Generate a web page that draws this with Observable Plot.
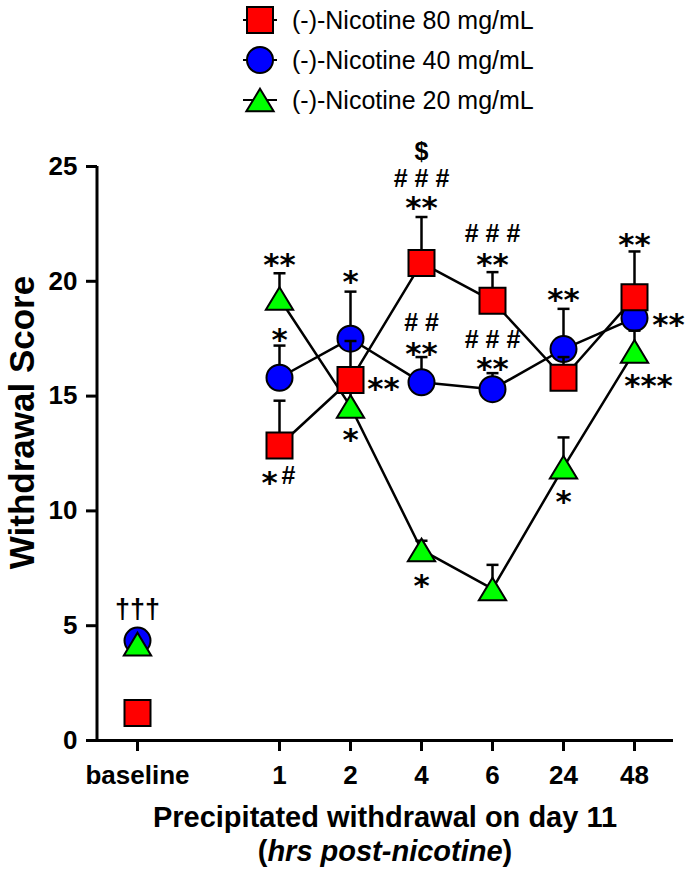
<!DOCTYPE html>
<html>
<head>
<meta charset="utf-8">
<script src="https://cdn.jsdelivr.net/npm/d3@7"></script>
<script src="https://cdn.jsdelivr.net/npm/@observablehq/plot@0.6"></script>
<style>
  body { margin: 0; background: #fff; font-family: "Liberation Sans", Arial, sans-serif; color: #000; }
  #legend { position: relative; height: 120px; }
  .row { position: absolute; left: 240px; height: 40px; display: flex; align-items: center; }
  .row span { margin-left: 12px; font-size: 25px; white-space: nowrap; }
  #chart svg { display: block; }
  #xtitle { margin-left: 97px; width: 576px; text-align: center; font-weight: bold; font-size: 29px; line-height: 34px; margin-top: 10px; }
</style>
</head>
<body>
<div id="legend"></div>
<div id="chart"></div>
<div id="xtitle"><div>Precipitated withdrawal on day 11</div><div>(<i>hrs post-nicotine</i>)</div></div>
<script>
// ---------------- data ----------------
const timepoints = ["baseline", "1", "2", "4", "6", "24", "48"];
const spacer = " ";
const yTicks = [0, 5, 10, 15, 20, 25];

const seriesNames = ["(-)-Nicotine 80 mg/mL", "(-)-Nicotine 40 mg/mL", "(-)-Nicotine 20 mg/mL"];
const seriesColors = ["#ff0000", "#0000ff", "#00ff00"];
const seriesSymbols = ["square", "circle", "triangle"];

const mean80 = [1.2, 12.85, 15.7, 20.8, 19.15, 15.8, 19.3];
const sem80  = [0, 1.95, 1.7, 2.0, 1.25, 0.9, 2.0];
const mean40 = [4.35, 15.8, 17.5, 15.6, 15.3, 17.05, 18.4];
const sem40  = [0, 1.4, 2.05, 1.1, 0.7, 1.75, 0.6];
const mean20 = [4.2, 19.25, 14.55, 8.3, 6.6, 11.9, 16.95];
const sem20  = [0, 1.1, 0.8, 0.4, 1.05, 1.3, 0.9];

// significance marks (asterisks)
const starTime  = ["1", "1", "1", "2", "2", "2", "4", "4", "4", "6", "6", "24", "24", "48", "48", "48"];
const starValue = [21.0, 17.75, 11.5, 20.25, 15.6, 13.4, 23.5, 17.15, 7.05, 21.0, 16.5, 19.5, 10.7, 21.9, 18.4, 15.75];
const starText  = ["**", "*", "*", "*", "**", "*", "**", "**", "*", "**", "**", "**", "*", "**", "**", "***"];
const starShift = [0, 0, -10, 0, 33, 0, 0, 0, 0, 0, 0, 0, 0, 0, 34, 14];

// other marks (#, $, †)
const noteTime  = ["baseline", "1", "4", "4", "4", "6", "6"];
const noteValue = [5.7, 11.5, 24.45, 25.65, 18.2, 22.05, 17.45];
const noteText  = ["†††", "#", "# # #", "$", "# #", "# # #", "# # #"];
const noteShift = [0, 9, 0, 0, 0, 0, 0];

// ---------------- shapes ----------------
const shapes = {
  square: { draw(ctx, size) { const r = Math.sqrt(size / Math.PI); ctx.moveTo(-r, -r); ctx.lineTo(r, -r); ctx.lineTo(r, r); ctx.lineTo(-r, r); ctx.closePath(); } },
  circle: { draw(ctx, size) { const r = Math.sqrt(size / Math.PI); ctx.moveTo(r, 0); ctx.arc(0, 0, r, 0, 2 * Math.PI); ctx.closePath(); } },
  triangle: { draw(ctx, size) { const r = Math.sqrt(size / Math.PI); const h = r * 0.87; ctx.moveTo(0, -h); ctx.lineTo(r * 1.05, h); ctx.lineTo(-r * 1.05, h); ctx.closePath(); } },
  cap: { draw(ctx, size) { const r = Math.sqrt(size / Math.PI); ctx.moveTo(-r, 0); ctx.lineTo(r, 0); } }
};
const R = 13;

// ---------------- table ----------------
const means = [mean80, mean40, mean20];
const sems = [sem80, sem40, sem20];
const rows = [];
seriesNames.forEach((name, s) => {
  timepoints.forEach((t, i) => rows.push({ series: name, s, time: t, mean: means[s][i], sem: sems[s][i] }));
});
const stars = starTime.map((t, i) => ({ time: t, value: starValue[i], text: starText[i], shift: starShift[i] }));
const notes = noteTime.map((t, i) => ({ time: t, value: noteValue[i], text: noteText[i], shift: noteShift[i] }));

// ---------------- legend ----------------
const legend = d3.select("#legend");
seriesNames.forEach((name, i) => {
  const row = legend.append("div").attr("class", "row").style("top", `${i * 40}px`);
  const svg = row.append("svg").attr("width", 40).attr("height", 40);
  const g = svg.append("g").attr("transform", "translate(20,20)");
  g.append("line").attr("x1", -17).attr("x2", 17).attr("stroke", "black").attr("stroke-width", 2);
  g.append("path").attr("d", d3.symbol(shapes[seriesSymbols[i]], Math.PI * R * R)())
    .attr("fill", seriesColors[i]).attr("stroke", "black").attr("stroke-width", 2);
  row.append("span").text(name);
});

// ---------------- plot ----------------
const marginLeft = 97;
const drawOrder = [1, 2, 0]; // 40, 20, 80
const marks = [];
for (const s of drawOrder) {
  const d = rows.filter(r => r.s === s);
  const withErr = d.filter(r => r.sem > 0);
  marks.push(Plot.line(d.filter(r => r.time !== "baseline"), { x: "time", y: "mean", stroke: "black", strokeWidth: 2.5 }));
  marks.push(Plot.ruleX(withErr, { x: "time", y1: "mean", y2: r => r.mean + r.sem, stroke: "black", strokeWidth: 2.5 }));
  marks.push(Plot.dot(withErr, { x: "time", y: r => r.mean + r.sem, r: 6, symbol: shapes.cap, fill: "none", stroke: "black", strokeWidth: 2.5 }));
  marks.push(Plot.dot(d, { x: "time", y: "mean", r: R, symbol: shapes[seriesSymbols[s]], fill: seriesColors[s], stroke: "black", strokeWidth: 2 }));
}

const plot = Plot.plot({
  width: 694,
  height: 670,
  marginLeft,
  marginRight: 21,
  marginTop: 46,
  marginBottom: 50,
  style: { fontFamily: "'Liberation Sans', Arial, sans-serif", fontSize: "24px", color: "black", background: "white", overflow: "visible" },
  x: { type: "point", domain: [timepoints[0], spacer, ...timepoints.slice(1)], padding: 0.52 },
  y: { domain: [0, 25] },
  marks: [
    Plot.ruleY([0], { stroke: "black", strokeWidth: 3 }),
    Plot.axisY({ ticks: yTicks, tickSize: 11, tickPadding: 9, strokeWidth: 3, fontSize: 26, fontWeight: "bold", label: null }),
    Plot.axisX({ ticks: timepoints, tickSize: 11, tickPadding: 14, strokeWidth: 3, fontSize: 26, fontWeight: "bold", label: null }),
    Plot.text(["Withdrawal Score"], { frameAnchor: "left", textAnchor: "middle", rotate: -90, dx: -75, dy: -31, fontSize: 35, fontWeight: "bold", text: d => d }),
    ...marks,
    Plot.text(stars, { x: "time", y: "value", text: "text", fontFamily: "'DejaVu Sans'", fontWeight: "bold", fontSize: 31, dy: 7 }),
    Plot.text(notes, { x: "time", y: "value", text: "text", fontFamily: "'Liberation Sans', Arial, sans-serif", fontWeight: "bold", fontSize: 25 })
  ]
});

document.getElementById("chart").appendChild(plot);
const svgSel = d3.select(plot);
// apply per-label horizontal shifts (offsets relative to the time point)
const textGroups = svgSel.selectAll("g[aria-label='text']").nodes();
const starG = textGroups[textGroups.length - 2];
const noteG = textGroups[textGroups.length - 1];
d3.select(starG).selectAll("text").each(function (_, i) { this.setAttribute("dx", stars[i].shift); });
d3.select(noteG).selectAll("text").each(function (_, i) {
  this.setAttribute("dx", notes[i].shift);
  if (notes[i].text.startsWith("†")) this.setAttribute("font-size", 27);
});

// y axis line
const yS = plot.scale("y");
svgSel.append("line")
  .attr("x1", marginLeft).attr("x2", marginLeft)
  .attr("y1", yS.apply(0) + 1.5).attr("y2", yS.apply(25))
  .attr("stroke", "black").attr("stroke-width", 3);
</script>
</body>
</html>
